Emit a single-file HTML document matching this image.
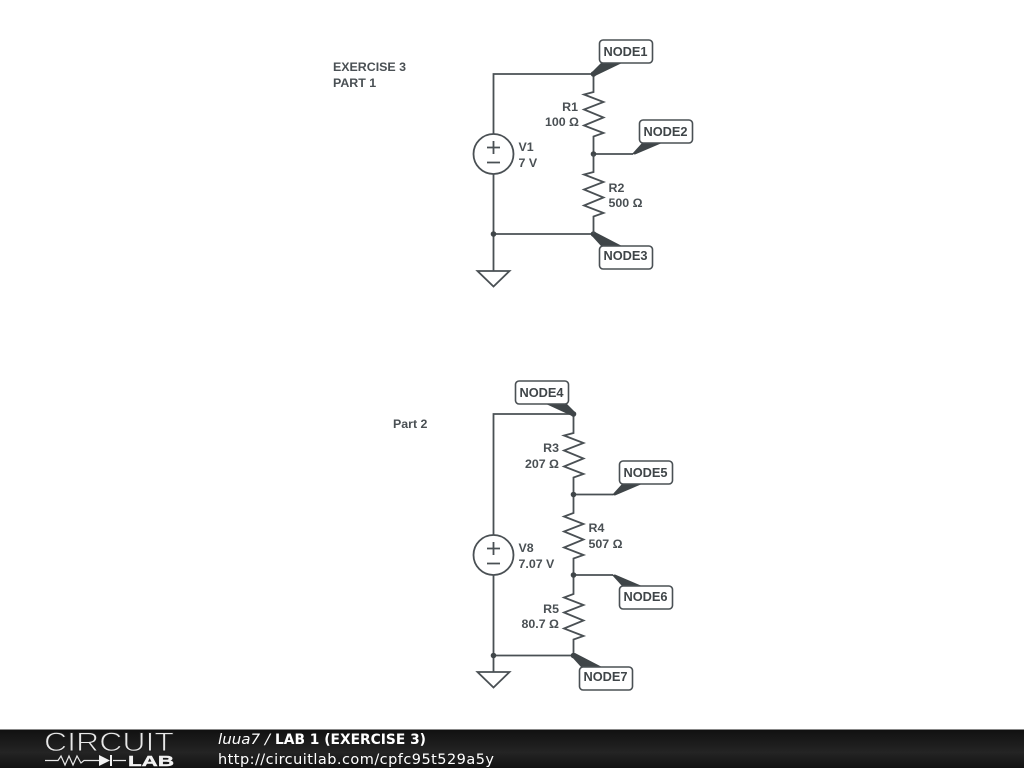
<!DOCTYPE html>
<html><head><meta charset="utf-8"><style>
html,body{margin:0;padding:0;background:#fff;width:1024px;height:768px;overflow:hidden}
svg{position:absolute;left:0;top:0}
.w{fill:none;stroke:#4a5054;stroke-width:1.8}
.t{font-family:"Liberation Sans",sans-serif;font-weight:bold;font-size:12.4px;fill:#4a5054}
.n{font-family:"Liberation Sans",sans-serif;font-weight:bold;font-size:12.8px;fill:#3f4548}
.b{fill:#fff;stroke:#4a5054;stroke-width:1.6}
.d{fill:#3f4548}
.f{font-family:"DejaVu Sans",sans-serif;font-size:14.5px;fill:#fff}
.s{filter:blur(0.3px)}
</style></head><body>
<svg width="1024" height="768" viewBox="0 0 1024 768" xmlns="http://www.w3.org/2000/svg">
<defs>
<linearGradient id="g" x1="0" y1="0" x2="0" y2="1"><stop offset="0" stop-color="#101010"/><stop offset="0.6" stop-color="#242424"/><stop offset="1" stop-color="#121212"/></linearGradient>
</defs>
<g class="s">
<!-- circuit 1 -->
<path class="w" d="M493.5 134V74H593.5V92L584 94.5 603.5 102 584 109.5 603.5 117.5 584 125.5 603.5 133 593.500 136.500V154M493.500 134M593.500 234H493.500M493.500 174V271M593.500 154H633"/>
<circle class="w" cx="493.5" cy="154" r="20"/>
<path class="w" d="M487 147.500H500M493.500 141V154M487 162.500H500"/>
<path class="w" d="M477.500 271H509.500L493.500 286.500Z"/>
<circle class="d" cx="593.5" cy="74" r="2.8"/><circle class="d" cx="593.5" cy="154" r="2.8"/><circle class="d" cx="593.5" cy="234" r="2.8"/><circle class="d" cx="493.5" cy="234" r="2.8"/>
<path class="d" d="M591 73L601 63H622L595 76Z"/><rect class="b" x="599.5" y="40" width="53" height="23" rx="3.5"/><text class="n" x="625.500" y="56" text-anchor="middle">NODE1</text>
<path class="d" d="M632 154L642 143H662L635 154.500Z"/><rect class="b" x="639.5" y="120" width="53" height="23" rx="3.5"/><text class="n" x="665.500" y="136" text-anchor="middle">NODE2</text>
<path class="d" d="M591 235L601 246H622L595 232Z"/><rect class="b" x="599.5" y="246" width="53" height="23" rx="3.5"/><text class="n" x="625.500" y="260" text-anchor="middle">NODE3</text>
<text class="t" x="333" y="71">EXERCISE 3</text><text class="t" x="333" y="87">PART 1</text>
<text class="t" x="578" y="111" text-anchor="end">R1</text><text class="t" x="579" y="126" text-anchor="end">100 Ω</text>
<text class="t" x="518.5" y="151">V1</text><text class="t" x="518.5" y="167">7 V</text>
<text class="t" x="608.5" y="192">R2</text><text class="t" x="608.5" y="207">500 Ω</text>
<path class="w" d="M593.5 154V172L584 174.5 603.5 182 584 189.5 603.5 197.5 584 205.5 603.5 213 593.5 216.5V234"/>
<!-- circuit 2 -->
<path class="w" d="M493.5 535V414H573.5V433L564 435.5 583.500 443 564 450.500 583.500 458.500 564 466.500 583.500 474 573.500 477.500V513L564 516.500 583.500 524 564 531.500 583.500 539.500 564 547.500 583.500 555 573.500 558.500V594L564 597.500 583.500 605 564 612.500 583.500 620.500 564 628.500 583.500 636 573.500 639.500V655.500H493.500M493.500 575V672M573.500 494.500H613M573.500 575H613"/>
<circle class="w" cx="493.5" cy="555" r="20"/>
<path class="w" d="M487 548.500H500M493.500 542V555M487 563.500H500"/>
<path class="w" d="M477.500 672H509.500L493.500 687.500Z"/>
<circle class="d" cx="573.5" cy="414" r="2.8"/><circle class="d" cx="573.5" cy="494.5" r="2.8"/><circle class="d" cx="573.5" cy="575" r="2.8"/><circle class="d" cx="573.5" cy="655.500" r="2.8"/><circle class="d" cx="493.5" cy="655.500" r="2.8"/>
<path class="d" d="M576 413L567 404H546L572 416Z"/><rect class="b" x="515.500" y="381" width="53" height="23" rx="3.5"/><text class="n" x="541.500" y="397" text-anchor="middle">NODE4</text>
<path class="d" d="M612 495L622 484H642L615 495.500Z"/><rect class="b" x="619.500" y="461" width="53" height="23" rx="3.5"/><text class="n" x="645.500" y="477" text-anchor="middle">NODE5</text>
<path class="d" d="M612 575L622 586H642L615 574.500Z"/><rect class="b" x="619.500" y="586" width="53" height="23" rx="3.5"/><text class="n" x="645.500" y="601" text-anchor="middle">NODE6</text>
<path class="d" d="M571 656L581 667H602L575 653Z"/><rect class="b" x="579.500" y="667" width="53" height="23" rx="3.5"/><text class="n" x="605.500" y="681" text-anchor="middle">NODE7</text>
<text class="t" x="393" y="428">Part 2</text>
<text class="t" x="559" y="452" text-anchor="end">R3</text><text class="t" x="559" y="468" text-anchor="end">207 Ω</text>
<text class="t" x="588.500" y="532">R4</text><text class="t" x="588.500" y="548">507 Ω</text>
<text class="t" x="518.500" y="552">V8</text><text class="t" x="518.500" y="568">7.07 V</text>
<text class="t" x="559" y="613" text-anchor="end">R5</text><text class="t" x="559" y="628" text-anchor="end">80.7 Ω</text>
</g>
<!-- footer -->
<rect x="0" y="729" width="1024" height="39" fill="url(#g)"/>
<rect x="0" y="729" width="1024" height="1" fill="#888"/>
<g class="s">
<text x="44" y="751" font-family="'Liberation Sans',sans-serif" font-size="27" fill="#e8e8e8" stroke="#1e1e1e" stroke-width="0.9" textLength="130" lengthAdjust="spacingAndGlyphs">CIRCUIT</text>
<path d="M45 760.500H58L61 756 65 765 69 756 73 765 77 756 81 763 84 760.500H99M113 760.500H126" fill="none" stroke="#e8e8e8" stroke-width="1.200"/>
<path d="M99 755V766L110 760.500Z" fill="#f2f2f2"/><rect x="110" y="755" width="2" height="11" fill="#f2f2f2"/>
<text x="128" y="766" font-family="'Liberation Sans',sans-serif" font-weight="bold" font-size="15" fill="#f2f2f2" stroke="#f2f2f2" stroke-width="0.4" textLength="46" lengthAdjust="spacingAndGlyphs">LAB</text>
<text class="f" x="218" y="744" textLength="52" lengthAdjust="spacingAndGlyphs" font-style="italic">luua7 /</text>
<text class="f" x="275" y="744" font-weight="bold" textLength="151" lengthAdjust="spacingAndGlyphs">LAB 1 (EXERCISE 3)</text>
<text class="f" x="218" y="764" textLength="276">http://circuitlab.com/cpfc95t529a5y</text>
</g>
</svg>
</body></html>
